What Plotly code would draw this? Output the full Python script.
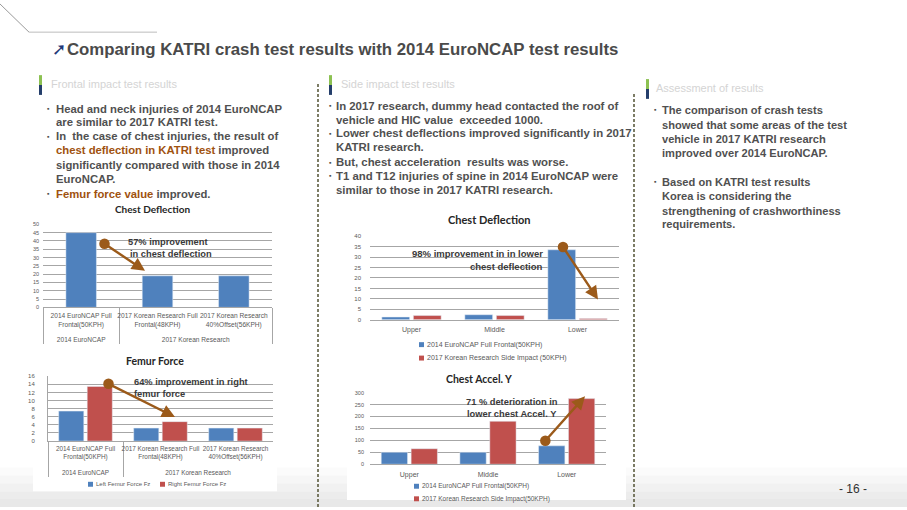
import plotly.graph_objects as go

W, H = 907, 510
def X(px): return px / W
def Y(py): return 1 - py / H

BLUE = "#4f81bd"; RED = "#c0504d"; BROWN = "#9b5a1a"
TXT = "#505050"; AX = "#595959"; GRID = "#a6a6a6"
FONT = "Liberation Sans"; CFONT = "Lato"

# ---------------- data ----------------
title_text = "Comparing KATRI crash test results with 2014 EuroNCAP test results"
section_titles = ["Frontal impact test results", "Side impact test results", "Assessment of results"]

front_groups = ["2014 EuroNCAP", "2017 Korean Research", "2017 Korean Research"]
front_cats = ["2014 EuroNCAP Full<br>Frontal(50KPH)<br> ",
              "2017 Korean Research Full<br>Frontal(48KPH)<br> ",
              "2017 Korean Research<br>40%Offset(56KPH)<br> "]
front_chest_defl = [45, 19, 19]
femur_left = [7.4, 3.2, 3.2]
femur_right = [13.5, 4.8, 3.2]
femur_names = ["Left Femur Force Fz", "Right Femur Force Fz"]

side_cats = ["Upper", "Middle", "Lower"]
side_defl_names = ["2014 EuroNCAP Full Frontal(50KPH)", "2017 Korean Research Side Impact (50KPH)"]
side_acc_names = ["2014 EuroNCAP Full Frontal(50KPH)", "2017 Korean Research Side Impact(50KPH)"]
side_defl_euro = [1.3, 2.4, 33.5]
side_defl_kor = [2.0, 2.0, 0.6]
side_acc_euro = [50, 50, 77]
side_acc_kor = [65, 180, 275]

left_lines = ["Head and neck injuries of 2014 EuroNCAP",
              "are similar to 2017 KATRI test.",
              "In  the case of chest injuries, the result of",
              "<span style='color:#a0520f'>chest deflection in KATRI test</span> improved",
              "significantly compared with those in 2014",
              "EuroNCAP.",
              "<span style='color:#a0520f'>Femur force value</span> improved."]
mid_lines = ["In 2017 research, dummy head contacted the roof of",
             "vehicle and HIC value  exceeded 1000.",
             "Lower chest deflections improved significantly in 2017",
             "KATRI research.",
             "But, chest acceleration  results was worse.",
             "T1 and T12 injuries of spine in 2014 EuroNCAP were",
             "similar to those in 2017 KATRI research."]
right_lines = ["The comparison of crash tests",
               "showed that some areas of the test",
               "vehicle in 2017 KATRI research",
               "improved over 2014 EuroNCAP.",
               "Based on KATRI test results",
               "Korea is considering the",
               "strengthening of crashworthiness",
               "requirements."]

# ---------------- figure ----------------
fig = go.Figure()
fig.add_bar(x=[front_groups, front_cats], y=front_chest_defl, marker_color=BLUE,
            width=0.4, xaxis="x", yaxis="y")
fig.add_bar(x=[front_groups, front_cats], y=femur_left, name=femur_names[0], marker_color=BLUE,
            xaxis="x2", yaxis="y2")
fig.add_bar(x=[front_groups, front_cats], y=femur_right, name=femur_names[1], marker_color=RED,
            xaxis="x2", yaxis="y2")
fig.add_bar(x=side_cats, y=side_defl_euro, name=side_defl_names[0], marker_color=BLUE,
            xaxis="x3", yaxis="y3")
fig.add_bar(x=side_cats, y=side_defl_kor, name=side_defl_names[1], marker_color=RED,
            xaxis="x3", yaxis="y3")
fig.add_bar(x=side_cats, y=side_acc_euro, name=side_acc_names[0], marker_color=BLUE,
            xaxis="x4", yaxis="y4")
fig.add_bar(x=side_cats, y=side_acc_kor, name=side_acc_names[1], marker_color=RED,
            xaxis="x4", yaxis="y4")

def yax(d0, d1, rng, dt, anchor, line=False, so=0, fs=6):
    return dict(domain=[Y(d0), Y(d1)], range=rng, dtick=dt, anchor=anchor, showgrid=True,
                gridcolor=GRID, gridwidth=0.8, zeroline=False, showline=line, linecolor=GRID,
                tickfont=dict(size=fs, color=AX, family=FONT), ticks="", fixedrange=True,
                ticklabelstandoff=so)
def xax(a, b, anchor, mc=False, fs=6, so=0):
    d = dict(domain=[X(a), X(b)], anchor=anchor, showline=True, linecolor=GRID, ticks="",
             tickangle=0, tickfont=dict(size=fs, color=AX, family=FONT), fixedrange=True,
             ticklabelstandoff=so)
    if mc:
        d.update(type="multicategory", showdividers=True, dividercolor=GRID, dividerwidth=1)
    return d

fig.update_layout(
    width=W, height=H, margin=dict(l=0, r=0, t=0, b=0),
    paper_bgcolor="white", plot_bgcolor="rgba(0,0,0,0)",
    barmode="group", bargap=0.24, bargroupgap=0.12, showlegend=False,
    xaxis=xax(43, 272, "y", mc=True, fs=6.6, so=2), yaxis=yax(308, 224, [0, 50], 5, "x", so=3, fs=5.5),
    xaxis2=xax(48, 273, "y2", mc=True, fs=6.4, so=1),
    yaxis2=yax(443.3, 377.7, [0, 16], 2, "x2", line=True, so=11, fs=6),
    xaxis3=xax(370, 619, "y3", fs=7, so=3), yaxis3=yax(320.5, 236, [0, 40], 5, "x3", so=8, fs=6),
    xaxis4=xax(370, 606, "y4", fs=7, so=3), yaxis4=yax(466.7, 394.3, [0, 300], 50, "x4", so=5, fs=5.5),
)

shapes = []
ann = []
def rect(x0, y0, x1, y1, color, layer="above"):
    shapes.append(dict(type="rect", xref="paper", yref="paper", x0=X(x0), x1=X(x1), y0=Y(y1), y1=Y(y0),
                       fillcolor=color, line_width=0, layer=layer))
def txt(px, py, s, size=11, color=TXT, xanchor="left", bold=True, family=FONT, align="left"):
    ann.append(dict(x=X(px), y=Y(py), xref="paper", yref="paper", showarrow=False,
                    text=("<b>%s</b>" % s) if bold else s, xanchor=xanchor, yanchor="middle", align=align,
                    borderpad=0, font=dict(size=size, color=color, family=family)))

# bottom gradient
for i, c in enumerate(["#fbfbfb", "#f6f6f6", "#f1f1f1", "#ececec", "#e8e8e8"]):
    rect(0, 470 + 8 * i, W, 470 + 8 * (i + 1), c, layer="below")
# white chart boxes
rect(33, 355, 277, 494, "white", layer="below")
rect(347, 370, 626, 503, "white", layer="below")
# header lines
shapes.append(dict(type="line", xref="paper", yref="paper", x0=X(0), y0=Y(1), x1=X(29), y1=Y(29.5),
                   line=dict(color="#9a9a9a", width=1)))
shapes.append(dict(type="line", xref="paper", yref="paper", x0=X(29), y0=Y(29.5), x1=X(157), y1=Y(29.5),
                   line=dict(color="#bdbdbd", width=1)))
# section bars
for bx, by in [(39, 73), (329, 73), (646, 77)]:
    rect(bx, by, bx + 3, by + 10, "#8cc152")
    rect(bx, by + 10, bx + 3, by + 20, "#243e6b")
# dashed separators
for sx, sy in [(318, 82), (634, 92)]:
    shapes.append(dict(type="line", xref="paper", yref="paper", x0=X(sx), x1=X(sx), y0=Y(sy), y1=Y(510),
                       line=dict(color="#5c5c40", width=1.6, dash="3px,2px")))

# custom legends (swatch + label)
def legend_item(px, py, color, label, size=6, sw=5):
    rect(px, py - sw / 2, px + sw, py + sw / 2, color)
    txt(px + sw + 1.5, py, label, size=size, color=AX, bold=False)
legend_item(88, 487, BLUE, femur_names[0], size=6)
legend_item(160, 487, RED, femur_names[1], size=6)
legend_item(419, 345.7, BLUE, side_defl_names[0], size=7)
legend_item(419, 359.3, RED, side_defl_names[1], size=7)
legend_item(414, 489, BLUE, side_acc_names[0], size=6.5)
legend_item(414, 501.7, RED, side_acc_names[1], size=6.5)

# title with arrow icon
txt(59, 47, "➚", size=17, color="#1f3a7a", xanchor="center", family="DejaVu Sans", bold=False)
txt(66, 47, title_text, size=16.8, color="#4a4a4a")
# section headers
for (px, py), s in zip([(50, 82), (340, 82), (655, 86)], section_titles):
    txt(px, py, s, size=11, color="#d4d4d4", bold=False)

# bullet columns
def column(lines, ys, tx, bx, bullets, size=11):
    for i, (s, yy) in enumerate(zip(lines, ys)):
        if i in bullets:
            txt(bx, yy, "▪", size=7, color=TXT, xanchor="center")
        txt(tx, yy, s, size=size)
column(left_lines, [107, 120, 135, 149, 164, 178, 193], 55, 48.5, {0, 2, 6}, size=11.3)
column(mid_lines, [104, 118, 132, 146, 161, 175, 189], 335, 330.5, {0, 2, 4, 5}, size=11.4)
column(right_lines, [108, 123, 138, 152, 181, 195, 210, 224], 661, 655.5, {0, 4}, size=11.1)

# chart titles
txt(152, 208, "Chest Deflection", size=10, color="#262626", xanchor="center", family=CFONT)
txt(155, 362, "Femur Force", size=10.5, color="#262626", xanchor="center", family=CFONT)
txt(489, 219, "Chest Deflection", size=11, color="#262626", xanchor="center", family=CFONT)
txt(479, 380, "Chest Accel. Y", size=10.5, color="#262626", xanchor="center", family=CFONT)

# callout texts
CT = "#3a3a3a"
txt(127, 242, "57% improvement", size=9.3, color=CT)
txt(129, 254, "in chest deflection", size=9.3, color=CT)
txt(133, 384, "64% improvement in right", size=9.3, color=CT)
txt(133, 396, "femur force", size=9.3, color=CT)
txt(544, 253, "98% improvement in in lower", size=9.5, color=CT, xanchor="right")
txt(544, 266.5, "chest deflection", size=9.5, color=CT, xanchor="right")
txt(512, 404, "71 % deterioration in", size=9.3, color=CT, xanchor="center")
txt(512, 416, "lower chest Accel. Y", size=9.3, color=CT, xanchor="center")

# arrows (head x,y ; tail x,y)
for (hx, hy, tx_, ty_) in [(145, 271, 103, 243), (175, 419, 107, 385),
                           (598, 300, 562, 246), (585, 398, 544, 444)]:
    ann.append(dict(x=X(hx), y=Y(hy), xref="paper", yref="paper", ax=tx_ - hx, ay=ty_ - hy,
                    axref="pixel", ayref="pixel", showarrow=True, arrowhead=2, arrowsize=1.1,
                    arrowside="end+start", startarrowhead=6, startarrowsize=1.1,
                    arrowwidth=2.4, arrowcolor=BROWN, text=""))

# page number
txt(853, 492, "- 16 -", size=12, color="#333333", xanchor="center", bold=False)

fig.update_layout(shapes=shapes, annotations=ann)
fig.write_html("out.html", config={"displayModeBar": False},
               post_script="document.body.style.margin='0';document.body.style.overflow='hidden';")
